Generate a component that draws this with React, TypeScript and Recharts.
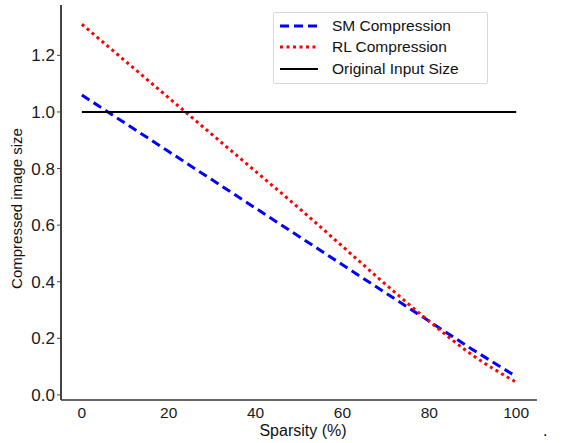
import { LineChart, Line, XAxis, YAxis } from 'recharts';

// sparsity levels (%)
const sparsity = [0, 10, 20, 30, 40, 50, 60, 70, 80, 90, 100];
const smCompression = [1.06, 0.96, 0.86, 0.76, 0.66, 0.56, 0.46, 0.36, 0.26, 0.16, 0.065];
const rlCompression = [1.31, 1.18, 1.05, 0.92, 0.79, 0.66, 0.525, 0.39, 0.26, 0.14, 0.045];
const originalSize = [1, 1, 1, 1, 1, 1, 1, 1, 1, 1, 1];

const xTicks = [0, 20, 40, 60, 80, 100];
const yTicks = [0, 0.2, 0.4, 0.6, 0.8, 1.0, 1.2];

const seriesNames = ['SM Compression', 'RL Compression', 'Original Input Size'];

const data = sparsity.map((s, i) => ({
  sparsity: s,
  sm: smCompression[i],
  rl: rlCompression[i],
  orig: originalSize[i],
}));

const FONT = '"Liberation Sans", Arial, sans-serif';

// legend drawn by hand so it doesn't eat plot space
const LegendBox = () => {
  const samples = [
    { stroke: '#0000ff', dash: '9 5', width: 3 },
    { stroke: '#ff0000', dash: '3 3.5', width: 3 },
    { stroke: '#000000', dash: undefined, width: 2 },
  ];
  return (
    <div
      style={{
        position: 'absolute',
        left: 273,
        top: 12,
        width: 215,
        boxSizing: 'border-box',
        border: '1px solid #d8d8d8',
        borderRadius: 2,
        padding: '2px 6px 3px 6px',
        background: '#fff',
        fontFamily: FONT,
        fontSize: 15.5,
        color: '#111',
      }}
    >
      {seriesNames.map((name, i) => (
        <div key={name} style={{ display: 'flex', alignItems: 'center', height: 21.5 }}>
          <svg width={38} height={10} style={{ marginRight: 14 }}>
            <line
              x1={0}
              y1={5}
              x2={38}
              y2={5}
              stroke={samples[i].stroke}
              strokeWidth={samples[i].width}
              strokeDasharray={samples[i].dash}
            />
          </svg>
          <span>{name}</span>
        </div>
      ))}
    </div>
  );
};

export default function App() {
  return (
    <div style={{ position: 'absolute', left: 0, top: 0, width: 562, height: 443, background: '#fff' }}>
      <LineChart width={562} height={443} data={data} margin={{ top: 5, right: 25, bottom: 0, left: 5 }}>
        <XAxis
          dataKey="sparsity"
          type="number"
          domain={[-4.8, 104.8]}
          ticks={xTicks}
          allowDataOverflow
          height={43}
          tickLine={false}
          tickMargin={1}
          axisLine={{ stroke: '#333', strokeWidth: 1.5 }}
          tick={{ fill: '#1a1a1a', fontSize: 15.5, fontFamily: FONT }}
          label={{
            value: 'Sparsity (%)',
            position: 'center',
            dx: 4,
            dy: 9,
            style: { fill: '#111', fontSize: 16, fontFamily: FONT },
          }}
        />
        <YAxis
          type="number"
          domain={[-0.018, 1.378]}
          ticks={yTicks}
          allowDataOverflow
          width={56}
          tickSize={4}
          tickMargin={2}
          tickFormatter={(v: number) => v.toFixed(1)}
          axisLine={{ stroke: '#444', strokeWidth: 2 }}
          tickLine={{ stroke: '#444' }}
          tick={{ fill: '#1a1a1a', fontSize: 17, fontFamily: FONT }}
          label={{
            value: 'Compressed image size',
            angle: -90,
            position: 'center',
            dx: -16,
            dy: 6,
            style: { fill: '#111', fontSize: 15, fontFamily: FONT },
          }}
        />
        <Line
          dataKey="sm"
          name={seriesNames[0]}
          stroke="#0000ff"
          strokeWidth={3}
          strokeDasharray="9 5"
          dot={false}
          type="linear"
          isAnimationActive={false}
        />
        <Line
          dataKey="rl"
          name={seriesNames[1]}
          stroke="#ff0000"
          strokeWidth={3}
          strokeDasharray="3 3.5"
          dot={false}
          type="monotone"
          isAnimationActive={false}
        />
        <Line
          dataKey="orig"
          name={seriesNames[2]}
          stroke="#000000"
          strokeWidth={2}
          dot={false}
          type="linear"
          isAnimationActive={false}
        />
      </LineChart>
      <LegendBox />
      <span
        style={{
          position: 'absolute',
          left: 543,
          top: 423,
          fontFamily: FONT,
          fontSize: 16,
          lineHeight: '16px',
          color: '#000',
        }}
      >
        .
      </span>
    </div>
  );
}
